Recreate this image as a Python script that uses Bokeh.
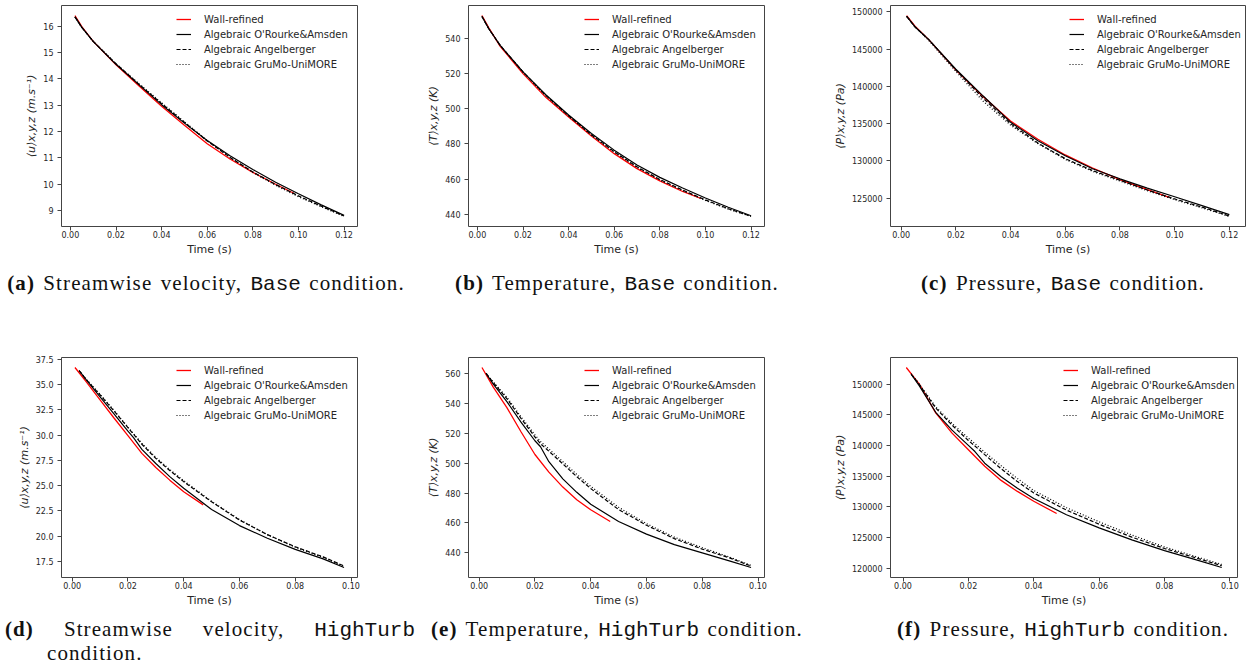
from bokeh.plotting import figure
from bokeh.layouts import row, column
from bokeh.models import Div, SingleIntervalTicker, NumeralTickFormatter
from bokeh.embed import file_html
from bokeh.resources import INLINE

# ------------------------------------------------------------------ data
SERIES = ["Wall-refined", "Algebraic O'Rourke&Amsden",
          "Algebraic Angelberger", "Algebraic GruMo-UniMORE"]

TIME_BASE_WR = [0.002, 0.005, 0.01, 0.02, 0.03, 0.04, 0.05, 0.06, 0.07, 0.08, 0.09, 0.098]
TIME_BASE = [0.002, 0.005, 0.01, 0.02, 0.03, 0.04, 0.05, 0.06, 0.07, 0.08, 0.09, 0.10, 0.11, 0.12]
TIME_HT_WR = [0.001, 0.005, 0.01, 0.015, 0.02, 0.025, 0.03, 0.035, 0.04, 0.047]
TIME_HT = [0.0025, 0.005, 0.01, 0.015, 0.02, 0.022, 0.025, 0.03, 0.035, 0.04,
           0.05, 0.06, 0.07, 0.08, 0.09, 0.0975]

VEL_BASE_WR = [16.4, 15.98, 15.42, 14.53, 13.74, 12.96, 12.24, 11.54, 10.96, 10.45, 10.0, 9.66]
VEL_BASE_OA = [16.35, 15.95, 15.42, 14.55, 13.78, 13.02, 12.32, 11.66, 11.08, 10.56, 10.08, 9.64, 9.22, 8.82]
VEL_BASE_AN = [16.35, 15.95, 15.42, 14.57, 13.8, 13.06, 12.35, 11.64, 11.02, 10.47, 9.99, 9.56, 9.17, 8.8]
VEL_BASE_GM = [16.35, 15.95, 15.42, 14.57, 13.82, 13.09, 12.37, 11.66, 11.02, 10.45, 9.96, 9.53, 9.15, 8.78]

TEMP_BASE_WR = [553, 546, 535.5, 520, 506.5, 495.3, 484.5, 474.5, 466, 459, 453, 449]
TEMP_BASE_OA = [552.5, 545.5, 536, 521, 508, 496.5, 486, 476.5, 468, 461, 455, 449.3, 444, 439.2]
TEMP_BASE_AN = [552.5, 545.5, 536, 521, 507.6, 496, 485.3, 475.6, 467, 459.8, 453.8, 448.2, 443.2, 438.9]
TEMP_BASE_GM = [552.5, 545.5, 536, 520.8, 507.4, 495.8, 485, 475.3, 466.7, 459.5, 453.5, 447.9, 443, 438.8]

PRES_BASE_WR = [149500, 148100, 146300, 142200, 138600, 135350, 132900, 130800, 129050, 127500, 126150, 125100]
PRES_BASE_OA = [149400, 148000, 146300, 142300, 138700, 135200, 132700, 130700, 128950, 127600, 126350, 125200, 124000, 122800]
PRES_BASE_AN = [149400, 148000, 146300, 142200, 138400, 135000, 132400, 130300, 128700, 127400, 126100, 124900, 123800, 122600]
PRES_BASE_GM = [149400, 148000, 146200, 142000, 138000, 134800, 132300, 130200, 128600, 127300, 126000, 124800, 123700, 122550]

VEL_HT_WR = [36.7, 35.3, 33.5, 31.7, 29.95, 28.2, 26.8, 25.55, 24.4, 23.1]
VEL_HT_OA = [36.4, 35.5, 33.8, 32.1, 30.4, 29.75, 28.6, 27.2, 25.9, 24.75, 22.65, 21.05, 19.8, 18.7, 17.75, 16.9]
VEL_HT_AN = [36.4, 35.5, 34.0, 32.4, 30.75, 30.1, 29.1, 27.7, 26.5, 25.4, 23.4, 21.6, 20.15, 18.95, 17.95, 17.05]
VEL_HT_GM = [36.4, 35.55, 34.05, 32.45, 30.8, 30.15, 29.2, 27.8, 26.6, 25.5, 23.45, 21.65, 20.15, 18.9, 17.9, 17.0]

TEMP_HT_WR = [564, 551, 537, 521, 505.8, 494, 484, 475.5, 468.8, 461]
TEMP_HT_OA = [560, 553, 541, 527.5, 515, 511, 501, 489.5, 480.5, 472.5, 461, 452.5, 445.5, 440, 434.5, 430.2]
TEMP_HT_AN = [560, 554, 543, 530, 517.5, 513, 508, 499.5, 491, 483, 469, 458.5, 449.5, 442.5, 436.5, 431.2]
TEMP_HT_GM = [560, 554.5, 544, 531, 519, 514.5, 509.5, 501, 492.5, 484.5, 470.5, 459.5, 450.5, 443.5, 437, 431.6]

PRES_HT_WR = [152700, 150000, 145300, 142000, 139300, 136600, 134300, 132500, 130900, 128900]
PRES_HT_OA = [151600, 149700, 145400, 142500, 140000, 139000, 137100, 134900, 133000, 131350, 128700, 126550, 124600, 122850, 121300, 120100]
PRES_HT_AN = [151600, 149900, 146100, 143300, 140800, 139900, 138500, 136200, 134100, 132250, 129450, 127150, 125050, 123200, 121600, 120400]
PRES_HT_GM = [151700, 150000, 146300, 143600, 141200, 140300, 138900, 136700, 134600, 132650, 129850, 127550, 125400, 123450, 121800, 120600]

Y_LABELS = ["⟨u⟩x,y,z (m.s⁻¹)", "⟨T⟩x,y,z (K)", "⟨P⟩x,y,z (Pa)"]
CAPTION_TAGS = ["(a)", "(b)", "(c)", "(d)", "(e)", "(f)"]
CAPTION_TEXTS = ["Streamwise velocity,", "Temperature,", "Pressure,",
                 "Streamwise velocity,", "Temperature,", "Pressure,"]
CAPTION_CONDS = ["Base", "Base", "Base", "HighTurb", "HighTurb", "HighTurb"]

# ------------------------------------------------------------------ helpers
TICK_COLOR = "#262626"
FRAME_COLOR = "#444444"


def make_panel(w, h, bl, br, bt, bb, t_wr, t_m, wr, oa, an, gm,
               y_int, y_fmt, ylabel, leg_x):
    p = figure(width=w, height=h, output_backend="svg", toolbar_location=None,
               min_border_left=bl, min_border_right=br, min_border_top=bt,
               min_border_bottom=bb, margin=0)
    p.background_fill_color = "white"
    p.border_fill_color = "white"
    p.outline_line_color = FRAME_COLOR
    p.outline_line_width = 1
    p.grid.visible = False

    p.line(t_wr, wr, line_color="#ff0000", line_width=1.3, legend_label=SERIES[0])
    p.line(t_m, oa, line_color="black", line_width=1.2, legend_label=SERIES[1])
    p.line(t_m, an, line_color="black", line_width=1.2, line_dash="4 2", legend_label=SERIES[2])
    p.line(t_m, gm, line_color="black", line_width=1.2, line_dash="1 2", legend_label=SERIES[3])

    p.xaxis.ticker = SingleIntervalTicker(interval=0.02, num_minor_ticks=0)
    p.xaxis.formatter = NumeralTickFormatter(format="0.00")
    p.yaxis.ticker = SingleIntervalTicker(interval=y_int, num_minor_ticks=0)
    p.yaxis.formatter = NumeralTickFormatter(format=y_fmt)
    for ax in (p.xaxis[0], p.yaxis[0]):
        ax.axis_line_color = None
        ax.major_tick_line_color = FRAME_COLOR
        ax.major_tick_out = 4
        ax.major_tick_in = 0
        ax.minor_tick_line_color = None
        ax.major_label_text_font = "DejaVu Sans"
        ax.major_label_text_font_size = "8px"
        ax.major_label_text_color = TICK_COLOR
        ax.axis_label_text_font = "DejaVu Sans"
        ax.axis_label_text_font_size = "11px"
        ax.axis_label_text_color = TICK_COLOR
    p.xaxis.major_label_standoff = 0
    p.yaxis.major_label_standoff = 4
    p.xaxis.axis_label = "Time (s)"
    p.xaxis.axis_label_text_font_style = "normal"
    p.xaxis.axis_label_standoff = 2
    p.yaxis.axis_label = ylabel
    p.yaxis.axis_label_text_font_style = "italic"
    p.yaxis.axis_label_standoff = 2

    lg = p.legend[0]
    lg.location = (leg_x, 152)
    lg.border_line_alpha = 0
    lg.background_fill_alpha = 0
    lg.label_text_font = "DejaVu Sans"
    lg.label_text_font_size = "10px"
    lg.label_text_color = TICK_COLOR
    lg.glyph_width = 15
    lg.glyph_height = 12
    lg.label_height = 12
    lg.label_standoff = 13
    lg.spacing = 3
    lg.padding = 4
    lg.margin = 0
    return p


def caption(i, w, h, pad_top, pad_l, pad_r, justify=False):
    tag = f"<b>{CAPTION_TAGS[i]}</b>"
    cond = ("<span style=\"font-family:'Liberation Mono',monospace;font-weight:normal;"
            f"font-size:21px;letter-spacing:0\">{CAPTION_CONDS[i]}</span>")
    base = ("font-family:'Liberation Serif',serif;font-size:21px;line-height:23px;"
            f"color:#111;letter-spacing:1.1px;word-spacing:2px;box-sizing:border-box;"
            f"width:{w}px;padding:{pad_top}px {pad_r}px 0 {pad_l}px;")
    if justify:
        html = (f"<div style=\"{base}\">"
                f"<div style=\"text-align:justify;text-align-last:justify;white-space:normal\">"
                f"{tag} {CAPTION_TEXTS[i]} {cond}</div>"
                f"<div style=\"padding-left:42px\">condition.</div></div>")
    else:
        html = (f"<div style=\"{base}text-align:center;white-space:nowrap\">"
                f"{tag} {CAPTION_TEXTS[i]} {cond} condition.</div>")
    return Div(text=html, width=w, height=h, margin=0)


# ------------------------------------------------------------------ panels
fa = make_panel(420, 260, 61, 63, 5, 34, TIME_BASE_WR, TIME_BASE,
                VEL_BASE_WR, VEL_BASE_OA, VEL_BASE_AN, VEL_BASE_GM, 1, "0", Y_LABELS[0], 111)
fb = make_panel(410, 260, 48, 66, 5, 34, TIME_BASE_WR, TIME_BASE,
                TEMP_BASE_WR, TEMP_BASE_OA, TEMP_BASE_AN, TEMP_BASE_GM, 20, "0", Y_LABELS[1], 112)
fc = make_panel(416, 260, 56, 1, 5, 34, TIME_BASE_WR, TIME_BASE,
                PRES_BASE_WR, PRES_BASE_OA, PRES_BASE_AN, PRES_BASE_GM, 5000, "0", Y_LABELS[2], 175)
fd = make_panel(420, 255, 61, 63, 2, 33, TIME_HT_WR, TIME_HT,
                VEL_HT_WR, VEL_HT_OA, VEL_HT_AN, VEL_HT_GM, 2.5, "0.0", Y_LABELS[0], 111)
fe = make_panel(410, 255, 48, 66, 2, 33, TIME_HT_WR, TIME_HT,
                TEMP_HT_WR, TEMP_HT_OA, TEMP_HT_AN, TEMP_HT_GM, 20, "0", Y_LABELS[1], 112)
ff = make_panel(416, 255, 55, 9, 2, 33, TIME_HT_WR, TIME_HT,
                PRES_HT_WR, PRES_HT_OA, PRES_HT_AN, PRES_HT_GM, 5000, "0", Y_LABELS[2], 169)

ca = caption(0, 420, 95, 12, 0, 8)
cb = caption(1, 410, 95, 12, 0, 16)
cc = caption(2, 416, 95, 12, 50, 0)
cd = caption(3, 420, 58, 8, 5, 5, justify=True)
ce = caption(4, 410, 58, 8, 0, 16)
cf = caption(5, 416, 58, 8, 50, 0)

root = column(row(fa, fb, fc, margin=0), row(ca, cb, cc, margin=0),
              row(fd, fe, ff, margin=0), row(cd, ce, cf, margin=0), margin=0)

open("out.html", "w").write(file_html(root, INLINE))
